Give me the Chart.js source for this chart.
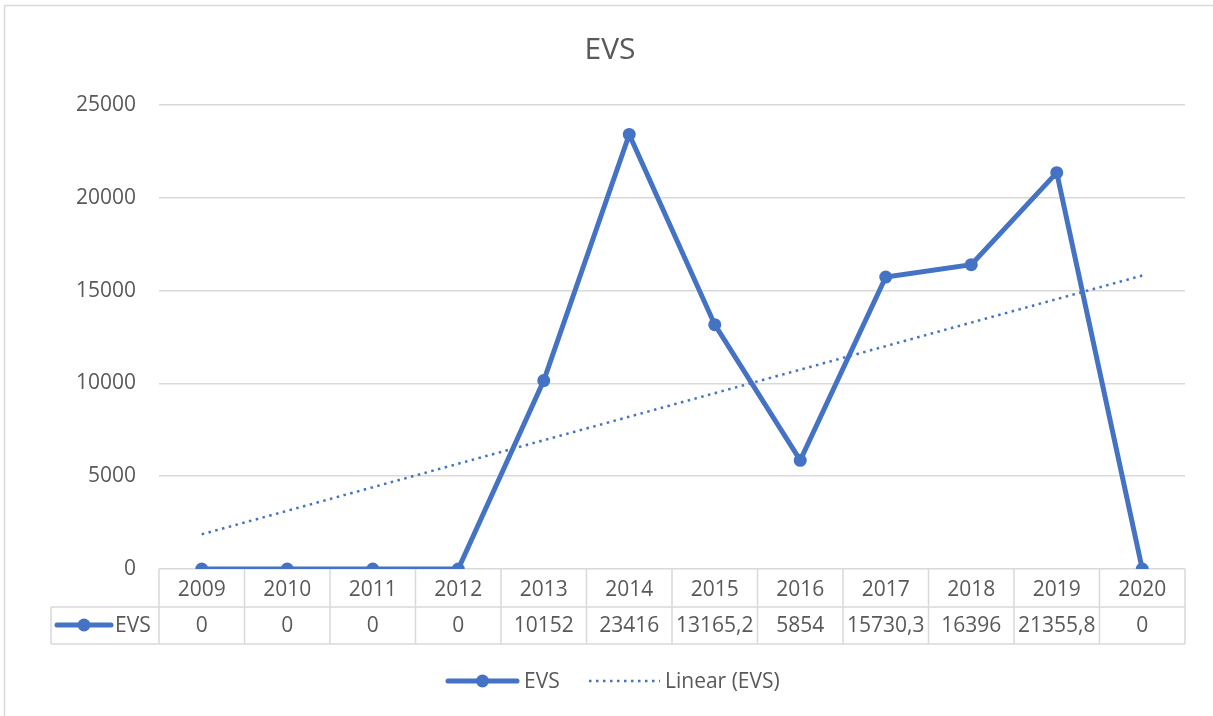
<!DOCTYPE html>
<html lang="pt-br">
<head>
    <meta charset="UTF-8">
    <title>EVS</title>
    <script src="https://cdn.jsdelivr.net/npm/chart.js"></script>
    <style>
        body { margin: 0; background: #fff; }
        #box { width: 1213px; height: 716px; }
    </style>
</head>
<body>
<div id="box"><canvas id="evsChart" width="1213" height="716"></canvas></div>
<script>
    // dados
    const anos = ["2009", "2010", "2011", "2012", "2013", "2014", "2015", "2016", "2017", "2018", "2019", "2020"];
    const evs = [0, 0, 0, 0, 10152, 23416, 13165.2, 5854, 15730.3, 16396, 21355.8, 0];
    const tendencia = [1870, 15810]; // linha de tendência (início 2009, fim 2020)
    const yTicks = [0, 5000, 10000, 15000, 20000, 25000];

    const azul = "#4472C4";
    const cinza = "#595959";
    const grade = "#d9d9d9";
    const fonte = "'Open Sans', 'Liberation Sans', sans-serif";

    const linhaTendencia = anos.map((a, i) => i === 0 ? tendencia[0] : (i === anos.length - 1 ? tendencia[1] : null));

    function fmt(v) {
        return String(v).replace(".", ",");
    }

    function amostraLinha(ctx, x1, x2, y) {
        ctx.save();
        ctx.strokeStyle = azul;
        ctx.lineWidth = 5;
        ctx.lineCap = "round";
        ctx.beginPath();
        ctx.moveTo(x1, y);
        ctx.lineTo(x2, y);
        ctx.stroke();
        ctx.fillStyle = azul;
        ctx.beginPath();
        ctx.arc((x1 + x2) / 2, y, 6.5, 0, Math.PI * 2);
        ctx.fill();
        ctx.restore();
    }

    // título, tabela de dados, legenda e borda
    const tabelaPlugin = {
        id: "tabela",
        afterDraw(chart) {
            const ctx = chart.ctx;
            const xs = chart.scales.x;
            const area = chart.chartArea;
            const passo = xs.getPixelForValue(1) - xs.getPixelForValue(0);
            const topo = area.bottom, meio = 607, base = 644, esq = 51;

            ctx.save();
            ctx.strokeStyle = grade;
            ctx.lineWidth = 1.5;
            ctx.beginPath();
            ctx.moveTo(esq, meio); ctx.lineTo(area.right, meio);
            ctx.moveTo(esq, base); ctx.lineTo(area.right, base);
            ctx.moveTo(esq, meio); ctx.lineTo(esq, base);
            for (let i = 0; i <= anos.length; i++) {
                const x = area.left + i * passo;
                ctx.moveTo(x, topo); ctx.lineTo(x, base);
            }
            ctx.stroke();

            // borda externa
            ctx.strokeRect(4.5, 5.5, 1240, 740);

            ctx.fillStyle = cinza;
            ctx.textAlign = "center";
            ctx.textBaseline = "middle";
            ctx.font = "30px " + fonte;
            ctx.fillText("EVS", 610, 50);

            ctx.font = "21px " + fonte;
            evs.forEach((v, i) => {
                ctx.fillText(fmt(v), xs.getPixelForValue(i), (meio + base) / 2 + 1);
            });

            amostraLinha(ctx, 57, 111, 625);
            ctx.textAlign = "left";
            ctx.fillText("EVS", 115, 626);

            // legenda
            const ly = 681;
            amostraLinha(ctx, 448, 517, ly);
            ctx.fillText("EVS", 524, ly + 1);
            ctx.strokeStyle = azul;
            ctx.lineWidth = 2.5;
            ctx.setLineDash([2.5, 4.5]);
            ctx.beginPath();
            ctx.moveTo(589, ly); ctx.lineTo(660, ly);
            ctx.stroke();
            ctx.setLineDash([]);
            ctx.fillText("Linear (EVS)", 665, ly + 1);
            ctx.restore();
        }
    };

    new Chart(document.getElementById("evsChart"), {
        type: "line",
        data: {
            labels: anos,
            datasets: [{
                label: "EVS",
                data: evs,
                borderColor: azul,
                backgroundColor: azul,
                borderWidth: 5,
                pointRadius: 6.5,
                pointBorderWidth: 0,
                pointBackgroundColor: azul,
                tension: 0,
                order: 1
            }, {
                label: "Linear (EVS)",
                data: linhaTendencia,
                borderColor: azul,
                borderWidth: 2.5,
                borderDash: [2.5, 4.5],
                pointRadius: 0,
                spanGaps: true,
                order: 2
            }]
        },
        options: {
            responsive: false,
            animation: false,
            layout: { padding: { left: 0, right: 28, top: 105, bottom: 0 } },
            plugins: {
                legend: { display: false },
                tooltip: { enabled: false },
                title: { display: false }
            },
            scales: {
                x: {
                    offset: true,
                    grid: { display: false },
                    border: { display: false },
                    ticks: { color: cinza, font: { family: fonte, size: 21 }, padding: 0, maxRotation: 0 },
                    afterFit(s) { s.height = 716 - 569; }
                },
                y: {
                    min: 0,
                    max: 25000,
                    afterBuildTicks(s) { s.ticks = yTicks.map(v => ({ value: v })); },
                    grid: { color: grade, lineWidth: 1.5, drawTicks: false },
                    border: { display: false },
                    ticks: { color: cinza, font: { family: fonte, size: 21 }, padding: 23, callback: v => String(v) },
                    afterFit(s) { s.width = 159; }
                }
            }
        },
        plugins: [tabelaPlugin]
    });
</script>
</body>
</html>
